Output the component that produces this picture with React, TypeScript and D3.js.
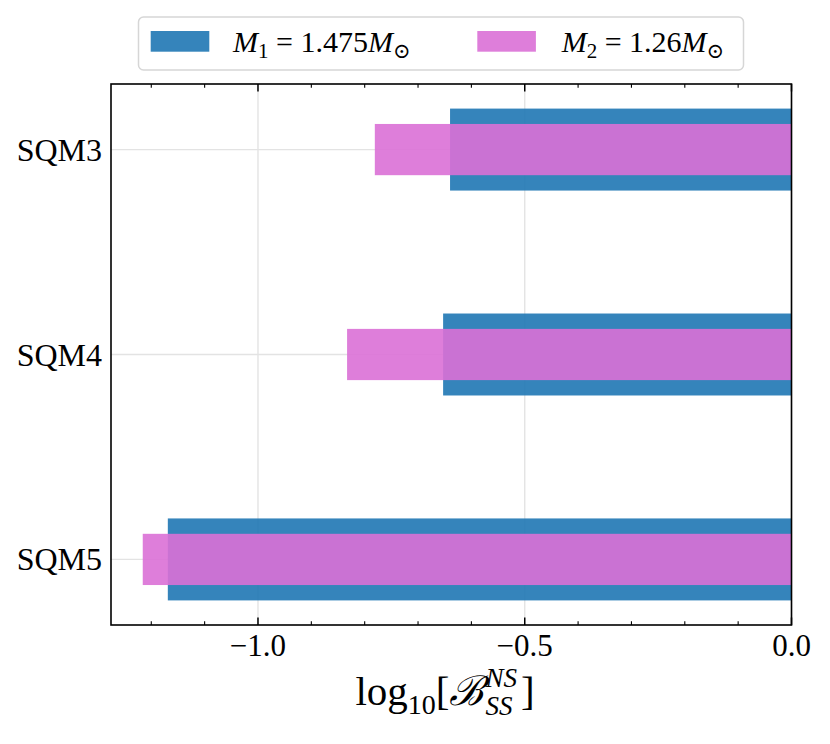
import React, { useEffect, useRef } from "react";
import * as d3 from "d3";

const categories = ["SQM3", "SQM4", "SQM5"];
const m1Values = [-0.64, -0.653, -1.169];
const m2Values = [-0.781, -0.833, -1.216];
const xTicks = [-1.0, -0.5, 0.0];
const legendLabels = [
  { name: "M", sub: "1", rest: " = 1.475" },
  { name: "M", sub: "2", rest: " = 1.26" },
];

const FONT = "'Liberation Serif', 'DejaVu Serif', serif";
const BLUE = "#1f77b4";
const PINK = "orchid";

const App: React.FC = () => {
  const svgRef = useRef<SVGSVGElement>(null);

  useEffect(() => {
    if (!svgRef.current) return;
    const svg = d3.select(svgRef.current);
    svg.selectAll("*").remove();

    const width = 830;
    const height = 744;
    const left = 111;
    const right = 791.5;
    const top = 84;
    const bottom = 625;

    svg.attr("width", width).attr("height", height);

    const x = d3.scaleLinear().domain([-1.2755, 0]).range([left, right]);
    const y = d3.scaleLinear().domain([-0.32, 2.32]).range([top, bottom]);

    // grid
    const grid = svg.append("g");
    xTicks.forEach((t) => {
      grid
        .append("line")
        .attr("x1", x(t))
        .attr("x2", x(t))
        .attr("y1", top)
        .attr("y2", bottom)
        .attr("stroke", "#e3e3e3")
        .attr("stroke-width", 1.4);
    });
    categories.forEach((_, i) => {
      grid
        .append("line")
        .attr("x1", left)
        .attr("x2", right)
        .attr("y1", y(i))
        .attr("y2", y(i))
        .attr("stroke", "#e3e3e3")
        .attr("stroke-width", 1.4);
    });

    // bars
    const bars = svg.append("g");
    m1Values.forEach((v, i) => {
      bars
        .append("rect")
        .attr("x", x(v))
        .attr("y", y(i - 0.2))
        .attr("width", x(0) - x(v))
        .attr("height", y(0.4) - y(0))
        .attr("fill", BLUE)
        .attr("fill-opacity", 0.9);
    });
    m2Values.forEach((v, i) => {
      bars
        .append("rect")
        .attr("x", x(v))
        .attr("y", y(i - 0.125))
        .attr("width", x(0) - x(v))
        .attr("height", y(0.25) - y(0))
        .attr("fill", PINK)
        .attr("fill-opacity", 0.9);
    });

    // ticks (inward, top and bottom)
    const ticks = svg.append("g").attr("stroke", "#000");
    d3.range(-12, 1).forEach((k) => {
      const v = k / 10;
      const major = k % 5 === 0;
      const len = major ? 7.5 : 3.8;
      const w = major ? 1.5 : 1.1;
      ticks
        .append("line")
        .attr("x1", x(v))
        .attr("x2", x(v))
        .attr("y1", bottom)
        .attr("y2", bottom - len)
        .attr("stroke-width", w);
      ticks
        .append("line")
        .attr("x1", x(v))
        .attr("x2", x(v))
        .attr("y1", top)
        .attr("y2", top + len)
        .attr("stroke-width", w);
    });

    // frame
    svg
      .append("rect")
      .attr("x", left)
      .attr("y", top)
      .attr("width", right - left)
      .attr("height", bottom - top)
      .attr("fill", "none")
      .attr("stroke", "#000")
      .attr("stroke-width", 1.6);

    // x tick labels
    xTicks.forEach((t) => {
      svg
        .append("text")
        .attr("x", x(t))
        .attr("y", 656)
        .attr("text-anchor", "middle")
        .style("font-family", FONT)
        .style("font-size", "31px")
        .text(t === 0 ? "0.0" : "\u2212" + Math.abs(t).toFixed(1));
    });

    // y tick labels
    categories.forEach((c, i) => {
      svg
        .append("text")
        .attr("x", 102)
        .attr("y", y(i) + 11)
        .attr("text-anchor", "end")
        .style("font-family", FONT)
        .style("font-size", "32px")
        .text(c);
    });

    // x axis label: log10[B_SS^NS]
    const lab = svg.append("g");
    let cx = 0;
    const base = 705;
    const piece = (
      txt: string,
      size: number,
      dy: number,
      italic = false,
      advance = true
    ) => {
      const t = lab
        .append("text")
        .attr("x", cx)
        .attr("y", base + dy)
        .style("font-family", FONT)
        .style("font-size", size + "px")
        .style("font-style", italic ? "italic" : "normal")
        .text(txt);
      const w = (t.node() as SVGTextElement).getComputedTextLength();
      if (advance) cx += w;
      return w;
    };
    piece("log", 41, 0);
    piece("10", 28, 9);
    piece("[", 41, 0);
    piece("\u212C", 41, 0, true);
    cx += 2;
    const w1 = piece("NS", 27, -18, true, false);
    const w2 = piece("SS", 27, 10, true, false);
    cx += Math.max(w1, w2) + 4;
    piece("]", 41, 0);
    lab.attr("transform", `translate(${445 - cx / 2},0)`);

    // legend
    const lg = svg.append("g");
    lg.append("rect")
      .attr("x", 138.5)
      .attr("y", 17)
      .attr("width", 605)
      .attr("height", 53)
      .attr("rx", 5)
      .attr("fill", "#fff")
      .attr("stroke", "#d6d6d6")
      .attr("stroke-width", 1.5);
    const patchX = [150.7, 477.3];
    const textX = [233, 561.7];
    const colors = [BLUE, PINK];
    legendLabels.forEach((l, i) => {
      lg.append("rect")
        .attr("x", patchX[i])
        .attr("y", 31)
        .attr("width", 58.6)
        .attr("height", 20.7)
        .attr("fill", colors[i])
        .attr("fill-opacity", 0.9);
      const t = lg
        .append("text")
        .attr("x", textX[i])
        .attr("y", 52)
        .style("font-family", FONT)
        .style("font-size", "30px");
      t.append("tspan").style("font-style", "italic").text(l.name);
      t.append("tspan")
        .attr("dy", 6)
        .style("font-size", "21px")
        .text(l.sub);
      t.append("tspan").attr("dy", -6).text(l.rest);
      t.append("tspan").style("font-style", "italic").text("M");
      t.append("tspan")
        .attr("dy", 6)
        .style("font-size", "21px")
        .text("\u2299");
    });
  }, []);

  return (
    <svg
      ref={svgRef}
      style={{ position: "absolute", left: 0, top: 0, background: "#fff" }}
    />
  );
};

export default App;
